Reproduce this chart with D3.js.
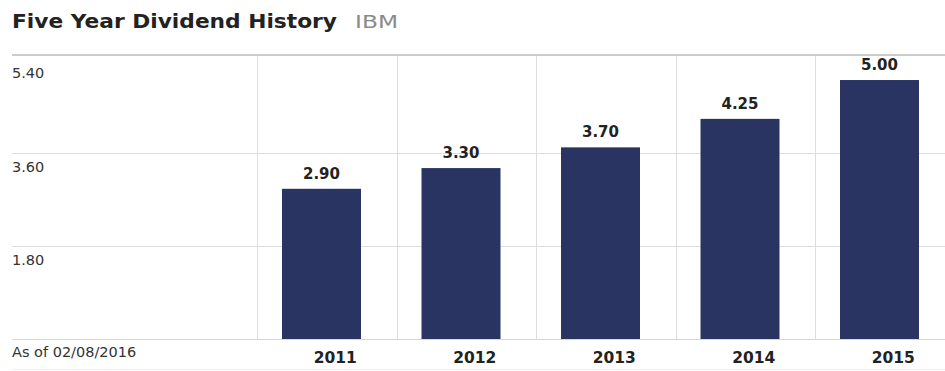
<!DOCTYPE html>
<html>
<head>
<meta charset="utf-8">
<script src="https://cdn.jsdelivr.net/npm/d3@7"></script>
<style>
  body { margin: 0; background: #fff; }
  text { font-family: "DejaVu Sans", Verdana, sans-serif; }
</style>
</head>
<body>
<svg width="945" height="371"></svg>
<script>
const years = ["2011", "2012", "2013", "2014", "2015"];
const dividends = [2.90, 3.30, 3.70, 4.25, 5.00];
const yTicks = [1.80, 3.60, 5.40];
const asOfLabel = "As of 02/08/2016";

function drawChart() {
  let svg = d3.select("svg");

  let y = d3.scaleLinear().domain([0, 5.4]).range([339, 59.3]);
  let x = d3.scaleBand().domain(years).range([257, 954.5]).padding(0);
  let bw = x.bandwidth();

  // title
  svg.append("text")
    .attr("x", 12).attr("y", 28)
    .attr("textLength", 325).attr("lengthAdjust", "spacingAndGlyphs")
    .style("font-size", "20px").style("font-weight", "bold")
    .style("fill", "#222")
    .text("Five Year Dividend History");
  svg.append("text")
    .attr("x", 355).attr("y", 28)
    .attr("textLength", 43).attr("lengthAdjust", "spacingAndGlyphs")
    .style("font-size", "18px")
    .style("fill", "#8a8a8a")
    .text("IBM");

  // gridlines
  svg.append("g").selectAll("line")
    .data(yTicks.filter(d => d < 5.4))
    .join("line")
    .attr("x1", 12).attr("x2", 945)
    .attr("y1", d => Math.round(y(d)) + 0.5).attr("y2", d => Math.round(y(d)) + 0.5)
    .style("stroke", "#dddddd");

  svg.append("g").selectAll("line")
    .data(years)
    .join("line")
    .attr("x1", d => Math.round(x(d)) + 0.5).attr("x2", d => Math.round(x(d)) + 0.5)
    .attr("y1", 56).attr("y2", 339)
    .style("stroke", "#dddddd");

  // top rule, baseline, bottom rule
  svg.append("line")
    .attr("x1", 12).attr("x2", 945).attr("y1", 55).attr("y2", 55)
    .style("stroke", "#cccccc").style("stroke-width", 2);
  svg.append("line")
    .attr("x1", 12).attr("x2", 945).attr("y1", 339.5).attr("y2", 339.5)
    .style("stroke", "#d6d6d6");
  svg.append("line")
    .attr("x1", 12).attr("x2", 945).attr("y1", 369.5).attr("y2", 369.5)
    .style("stroke", "#eeeeee");

  // y labels
  svg.append("g").selectAll("text")
    .data(yTicks)
    .join("text")
    .attr("x", 12).attr("y", d => y(d) + 19)
    .style("font-size", "14.5px").style("fill", "#333")
    .text(d => d.toFixed(2));

  // bars
  let data = years.map((yr, i) => ({year: yr, value: dividends[i]}));
  svg.append("g").selectAll("rect")
    .data(data)
    .join("rect")
    .attr("x", d => x(d.year) + 25)
    .attr("width", 79)
    .attr("y", d => y(d.value))
    .attr("height", d => y(0) - y(d.value))
    .style("fill", "#293462");

  // value labels
  svg.append("g").selectAll("text")
    .data(data)
    .join("text")
    .attr("x", d => x(d.year) + 25 + 39.5)
    .attr("y", d => y(d.value) - 10)
    .attr("text-anchor", "middle")
    .style("font-size", "15px").style("font-weight", "bold").style("fill", "#222")
    .text(d => d.value.toFixed(2));

  // year labels
  svg.append("g").selectAll("text")
    .data(years)
    .join("text")
    .attr("x", d => x(d) + bw / 2 + 8.5)
    .attr("y", 363)
    .attr("text-anchor", "middle")
    .style("font-size", "15.5px").style("font-weight", "bold").style("fill", "#222")
    .text(d => d);

  svg.append("text")
    .attr("x", 12).attr("y", 357)
    .style("font-size", "14.5px").style("fill", "#333")
    .text(asOfLabel);
}

drawChart();
</script>
</body>
</html>
